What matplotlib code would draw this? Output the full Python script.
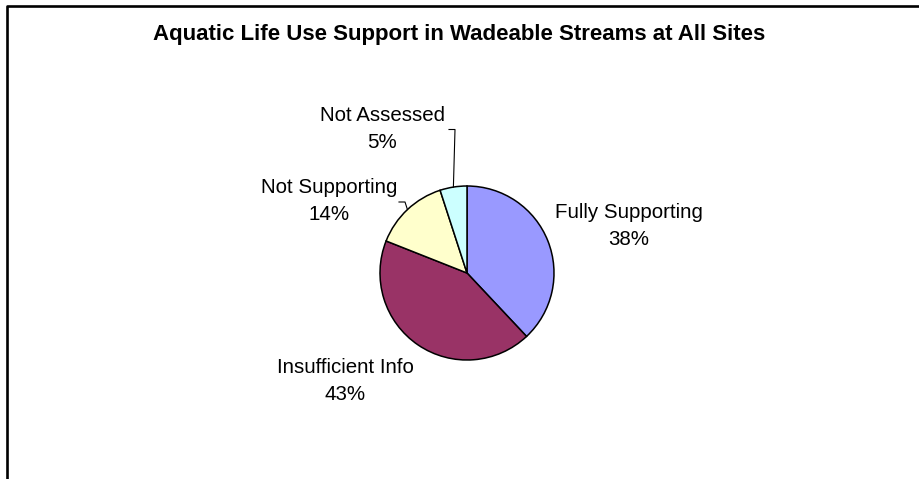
import numpy as np
import matplotlib.pyplot as plt
from matplotlib.lines import Line2D

plt.rcParams['font.family'] = ['Liberation Sans', 'DejaVu Sans']

categories = ['Fully Supporting', 'Insufficient Info', 'Not Supporting', 'Not Assessed']
shares = [38, 43, 14, 5]
colors = ['#9999FF', '#993366', '#FFFFCC', '#CCFFFF']
title = 'Aquatic Life Use Support in Wadeable Streams at All Sites'

W, H = 919, 479
fig = plt.figure(figsize=(W / 100, H / 100), dpi=100)

# pie placed by pixel centre / radius
cx, cy, r = 467, 273, 87
ax = fig.add_axes([(cx - r) / W, (H - cy - r) / H, 2 * r / W, 2 * r / H])
wedges, _ = ax.pie(shares, colors=colors, startangle=90, counterclock=False,
                   wedgeprops=dict(edgecolor='black', linewidth=1.1))
ax.set_xlim(-1, 1)
ax.set_ylim(-1, 1)
ax.set_aspect('equal')
ax.axis('off')


def px(x, y):
    # pixel position (from top-left) -> data coords of the pie axes
    return (x - cx) / r, (cy - y) / r


# label centre x and first-line baseline, in pixels
label_pos = {
    'Fully Supporting': (629, 218),
    'Insufficient Info': (345, 373),
    'Not Supporting': (329, 193),
    'Not Assessed': (382, 121),
}
line_step = 27
leaders = {
    'Not Assessed': [(449, 129.5), (455, 129.5)],
    'Not Supporting': [(399, 202), (405, 202)],
}

for w, name, val in zip(wedges, categories, shares):
    lx, ly = label_pos[name]
    for i, s in enumerate([name, f'{val}%']):
        x, y = px(lx, ly + i * line_step)
        ax.text(x, y, s, ha='center', va='baseline', fontsize=14.8, clip_on=False)
    if name in leaders:
        mid = np.deg2rad((w.theta1 + w.theta2) / 2)
        pts = [px(*p) for p in leaders[name]] + [(np.cos(mid), np.sin(mid))]
        xs, ys = zip(*pts)
        ax.plot(xs, ys, color='black', linewidth=0.8, clip_on=False)

fig.text(459 / W, 1 - 40 / H, title, ha='center', va='baseline',
         fontsize=16, fontweight='bold')

# chart frame (runs off the right and bottom)
fig.add_artist(Line2D([7 / W, 7 / W, 1.0], [0.0, 1 - 5.5 / H, 1 - 5.5 / H],
                      transform=fig.transFigure, color='black', linewidth=1.9))

fig.savefig('out.png', dpi=100)
